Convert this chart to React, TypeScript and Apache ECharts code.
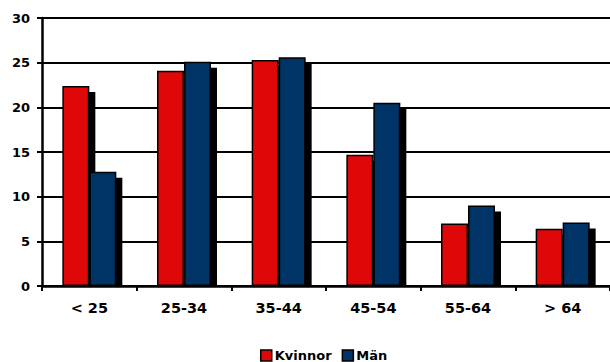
import React, { useEffect, useRef } from "react";
import * as echarts from "echarts";

// Age groups on the category axis
const ageGroups = ["< 25", "25-34", "35-44", "45-54", "55-64", "> 64"];
// Share per age group (%)
const kvinnor = [22.4, 24.1, 25.3, 14.7, 7.0, 6.4];
const man = [12.8, 25.1, 25.6, 20.5, 9.0, 7.1];
// Value axis ticks
const yMin = 0;
const yMax = 30;
const yStep = 5;

const RED = "#DE0808";
const BLUE = "#003366";
const FONT = "'DejaVu Sans', Verdana, sans-serif";
const BAR_W = 27;
const SHADOW_DX = 6;
const SHADOW_DY = 6;

export default function App() {
  const ref = useRef<HTMLDivElement | null>(null);

  useEffect(() => {
    if (!ref.current) return;
    const chart = echarts.init(ref.current, undefined, { renderer: "svg" });

    // Solid black drop shadows behind each pair of bars
    const shadowData = ageGroups.map((_, i) => [i, kvinnor[i], man[i]]);

    chart.setOption({
      animation: false,
      backgroundColor: "#ffffff",
      textStyle: { fontFamily: FONT },
      grid: { left: 42, top: 18, width: 572, height: 268, containLabel: false },
      legend: {
        data: ["Kvinnor", "Män"],
        left: 255,
        top: 344,
        icon: "rect",
        itemWidth: 11,
        itemHeight: 11,
        itemGap: 10,
        textStyle: {
          fontFamily: FONT,
          fontWeight: "bold",
          fontSize: 13,
          color: "#000",
          padding: [0, 0, 0, -2],
        },
        itemStyle: { borderColor: "#000", borderWidth: 1.5 },
      },
      xAxis: {
        type: "category",
        data: ageGroups,
        axisLine: { lineStyle: { color: "#000", width: 2.5 } },
        axisTick: { show: true, length: 5, lineStyle: { color: "#000", width: 2 } },
        axisLabel: {
          color: "#000",
          fontFamily: FONT,
          fontWeight: "bold",
          fontSize: 14.5,
          margin: 14,
        },
      },
      yAxis: {
        type: "value",
        min: yMin,
        max: yMax,
        interval: yStep,
        axisLine: { show: true, lineStyle: { color: "#000", width: 2.5 } },
        axisTick: { show: true, length: 5, lineStyle: { color: "#000", width: 2 } },
        axisLabel: {
          color: "#000",
          fontFamily: FONT,
          fontWeight: "bold",
          fontSize: 13,
          margin: 12,
        },
        splitLine: { show: true, lineStyle: { color: "#000", width: 2 } },
      },
      series: [
        {
          type: "custom",
          name: "shadow",
          z: 1,
          silent: true,
          data: shadowData,
          encode: { x: 0, y: [1, 2] },
          renderItem: (params: any, api: any) => {
            const idx = api.value(0);
            const base = api.coord([idx, 0]);
            const cx = base[0];
            const y0 = base[1];
            const yR = api.coord([idx, api.value(1)])[1];
            const yB = api.coord([idx, api.value(2)])[1];
            return {
              type: "group",
              children: [
                {
                  type: "rect",
                  shape: {
                    x: cx - BAR_W + SHADOW_DX,
                    y: yR + SHADOW_DY,
                    width: BAR_W,
                    height: Math.max(0, y0 - yR - SHADOW_DY),
                  },
                  style: { fill: "#000" },
                },
                {
                  type: "rect",
                  shape: {
                    x: cx + SHADOW_DX,
                    y: yB + SHADOW_DY,
                    width: BAR_W,
                    height: Math.max(0, y0 - yB - SHADOW_DY),
                  },
                  style: { fill: "#000" },
                },
              ],
            };
          },
        },
        {
          type: "bar",
          name: "Kvinnor",
          data: kvinnor,
          barWidth: BAR_W,
          barGap: "0%",
          z: 3,
          itemStyle: { color: RED, borderColor: "#000", borderWidth: 1.5 },
        },
        {
          type: "bar",
          name: "Män",
          data: man,
          barWidth: BAR_W,
          barGap: "0%",
          z: 3,
          itemStyle: { color: BLUE, borderColor: "#000", borderWidth: 1.5 },
        },
      ],
    });

    return () => chart.dispose();
  }, []);

  return (
    <div
      ref={ref}
      style={{ position: "fixed", left: 0, top: 0, width: 610, height: 362 }}
    />
  );
}
